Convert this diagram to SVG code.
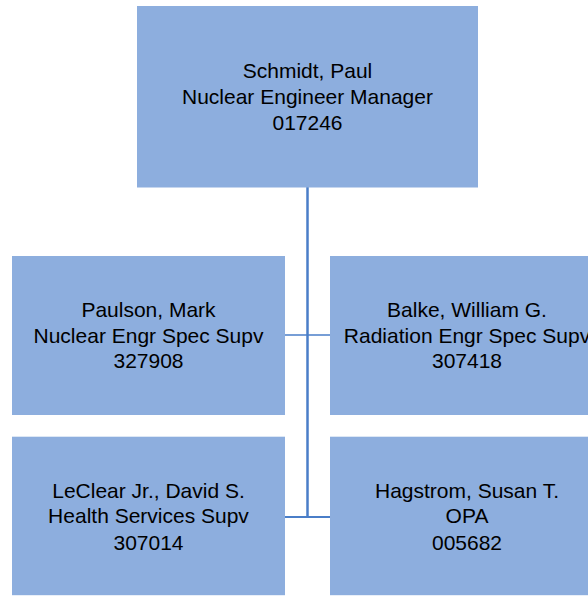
<svg xmlns="http://www.w3.org/2000/svg" width="588" height="596" viewBox="0 0 588 596">
<style>
.box{fill:#8DAEDE}
.t{font-family:"Liberation Sans",Arial,sans-serif;font-size:21px;fill:#000;text-anchor:middle}
.c{stroke:#4A7EC8;fill:none}
</style>
<rect width="588" height="596" fill="#fff"/>
<g id="connectors">
<line class="c" x1="307.5" y1="187" x2="307.5" y2="518" stroke-width="2.5"/>
<line class="c" x1="285" y1="335" x2="330" y2="335" stroke-width="1.3"/>
<line class="c" x1="284" y1="517" x2="330" y2="517" stroke-width="2"/>
</g>
<g id="schmidt">
<rect class="box" x="137" y="6" width="341" height="181.5"/>
<text class="t" x="307.5" y="78.3">Schmidt, Paul</text>
<text class="t" x="307.5" y="104">Nuclear Engineer Manager</text>
<text class="t" x="307.5" y="130">017246</text>
</g>
<g id="paulson">
<rect class="box" x="12" y="256" width="273" height="159"/>
<text class="t" x="148.5" y="317">Paulson, Mark</text>
<text class="t" x="148.5" y="343">Nuclear Engr Spec Supv</text>
<text class="t" x="148.5" y="368">327908</text>
</g>
<g id="balke">
<rect class="box" x="330" y="256" width="274" height="159"/>
<text class="t" x="467" y="317">Balke, William G.</text>
<text class="t" x="467" y="343">Radiation Engr Spec Supv</text>
<text class="t" x="467" y="368">307418</text>
</g>
<g id="leclear">
<rect class="box" x="12" y="436.7" width="273" height="158.5"/>
<text class="t" x="148.5" y="497.5">LeClear Jr., David S.</text>
<text class="t" x="148.5" y="523.3">Health Services Supv</text>
<text class="t" x="148.5" y="549.5">307014</text>
</g>
<g id="hagstrom">
<rect class="box" x="330" y="436.7" width="274" height="158.5"/>
<text class="t" x="467" y="497.5">Hagstrom, Susan T.</text>
<text class="t" x="467" y="523.3">OPA</text>
<text class="t" x="467" y="549.5">005682</text>
</g>
</svg>
